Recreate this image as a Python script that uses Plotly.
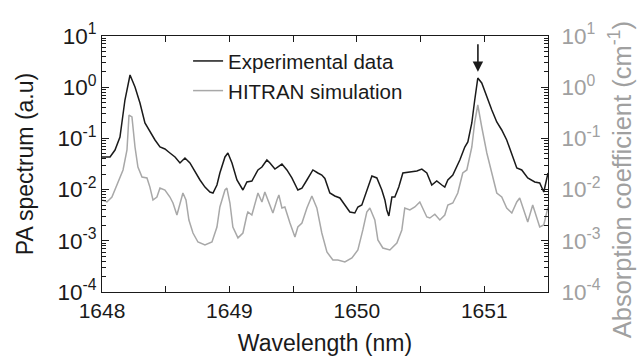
import plotly.graph_objects as go

# Experimental PA spectrum (wavelength nm, a.u.)
exp_wl = [1648.000, 1648.063, 1648.102, 1648.141, 1648.180, 1648.220, 1648.259, 1648.298,
          1648.337, 1648.376, 1648.416, 1648.455, 1648.494, 1648.533, 1648.573, 1648.612,
          1648.651, 1648.690, 1648.729, 1648.769, 1648.808, 1648.847, 1648.871, 1648.902,
          1648.925, 1648.965, 1648.988, 1649.020, 1649.059, 1649.106, 1649.137, 1649.176,
          1649.224, 1649.255, 1649.294, 1649.318, 1649.357, 1649.412, 1649.451, 1649.490,
          1649.537, 1649.569, 1649.608, 1649.655, 1649.694, 1649.725, 1649.749, 1649.788,
          1649.827, 1649.867, 1649.906, 1649.945, 1649.984, 1650.008, 1650.039, 1650.078,
          1650.118, 1650.157, 1650.196, 1650.220, 1650.235, 1650.251, 1650.275, 1650.298,
          1650.329, 1650.361, 1650.416, 1650.471, 1650.510, 1650.549, 1650.588, 1650.627,
          1650.667, 1650.690, 1650.714, 1650.753, 1650.808, 1650.847, 1650.871, 1650.902,
          1650.925, 1650.949, 1650.980, 1651.020, 1651.059, 1651.098, 1651.137, 1651.176,
          1651.216, 1651.255, 1651.294, 1651.341, 1651.396, 1651.435, 1651.467, 1651.500]
exp_val = [0.0434, 0.0434, 0.0593, 0.106, 0.562, 1.73, 1.01, 0.491,
           0.200, 0.133, 0.0931, 0.0679, 0.0621, 0.0519, 0.0434, 0.0331,
           0.0414, 0.0331, 0.0221, 0.0154, 0.0112, 0.00898, 0.00859, 0.0123,
           0.0211, 0.0434, 0.0519, 0.0331, 0.0154, 0.00982, 0.0141, 0.0147,
           0.0242, 0.0276, 0.0379, 0.0331, 0.0252, 0.0316, 0.0242, 0.0169,
           0.00982, 0.0107, 0.0154, 0.0242, 0.0211, 0.0193, 0.0165, 0.00859,
           0.00750, 0.00686, 0.00500, 0.00365, 0.00349, 0.00457, 0.00500, 0.00982,
           0.0184, 0.0169, 0.00982, 0.00627, 0.00400, 0.00305, 0.00716, 0.00716,
           0.0112, 0.0211, 0.0221, 0.0231, 0.0252, 0.0211, 0.0123, 0.0147,
           0.0123, 0.0112, 0.0154, 0.0193, 0.0379, 0.0679, 0.0851, 0.200,
           0.562, 1.51, 1.21, 0.644, 0.359, 0.209, 0.146, 0.0931,
           0.0474, 0.0264, 0.0242, 0.0169, 0.0141, 0.0135, 0.00898, 0.0211]

# HITRAN simulation (wavelength nm, absorption coefficient cm^-1)
sim_wl = [1648.000, 1648.039, 1648.078, 1648.125, 1648.165, 1648.196, 1648.212, 1648.235,
          1648.259, 1648.282, 1648.314, 1648.353, 1648.376, 1648.400, 1648.431, 1648.455,
          1648.494, 1648.533, 1648.557, 1648.588, 1648.612, 1648.635, 1648.659, 1648.682,
          1648.714, 1648.753, 1648.808, 1648.863, 1648.902, 1648.925, 1648.965, 1648.980,
          1649.004, 1649.027, 1649.067, 1649.106, 1649.137, 1649.145, 1649.176, 1649.200,
          1649.224, 1649.255, 1649.278, 1649.302, 1649.341, 1649.373, 1649.388, 1649.412,
          1649.435, 1649.475, 1649.514, 1649.537, 1649.569, 1649.608, 1649.647, 1649.686,
          1649.725, 1649.765, 1649.812, 1649.851, 1649.906, 1649.961, 1650.008, 1650.047,
          1650.078, 1650.102, 1650.141, 1650.165, 1650.204, 1650.259, 1650.314, 1650.353,
          1650.376, 1650.416, 1650.455, 1650.494, 1650.518, 1650.549, 1650.573, 1650.612,
          1650.651, 1650.690, 1650.714, 1650.753, 1650.792, 1650.831, 1650.863, 1650.902,
          1650.925, 1650.949, 1650.980, 1651.020, 1651.059, 1651.098, 1651.137, 1651.176,
          1651.216, 1651.255, 1651.278, 1651.302, 1651.341, 1651.380, 1651.412, 1651.435,
          1651.467, 1651.500]
sim_val = [0.00627, 0.00573, 0.00716, 0.0135, 0.0242, 0.0593, 0.286, 0.262,
           0.0679, 0.0276, 0.0176, 0.0169, 0.0112, 0.00627, 0.00716, 0.0107,
           0.00982, 0.00716, 0.00547, 0.00319, 0.00547, 0.00859, 0.00627, 0.00255,
           0.00142, 0.000948, 0.000828, 0.000948, 0.00186, 0.00457, 0.00982, 0.0107,
           0.00547, 0.00186, 0.00114, 0.00142, 0.00319, 0.00365, 0.00319, 0.00500,
           0.00859, 0.00573, 0.00898, 0.00627, 0.00349, 0.00627, 0.00785, 0.00438,
           0.00457, 0.00223, 0.00119, 0.00186, 0.00223, 0.00438, 0.00750, 0.00438,
           0.00142, 0.000604, 0.000422, 0.000422, 0.000385, 0.000461, 0.000661, 0.00163,
           0.00365, 0.00438, 0.00255, 0.00104, 0.000723, 0.000661, 0.000906, 0.00163,
           0.00438, 0.00400, 0.00457, 0.00573, 0.00438, 0.00292, 0.00279, 0.00330,
           0.00255, 0.00319, 0.00500, 0.00547, 0.00859, 0.0211, 0.0242, 0.0679,
           0.209, 0.449, 0.167, 0.0519, 0.0211, 0.00859, 0.00716, 0.00438,
           0.00349, 0.00573, 0.00686, 0.00438, 0.00233, 0.00500, 0.00292, 0.00186,
           0.00204, 0.00457]

x_ticks = [1648, 1648.5, 1649, 1649.5, 1650, 1650.5, 1651, 1651.5]
x_ticktext = ["1648", "", "1649", "", "1650", "", "1651", ""]
y_exps = [-4, -3, -2, -1, 0, 1]
y_ticks = [10.0 ** e for e in y_exps]
y_ticktext = ["10<sup>%d</sup>" % e for e in y_exps]
y_minor = [m * 10.0 ** e for e in y_exps[:-1] for m in range(2, 10)]
arrow_wl = 1650.95

BLACK = "#1a1a1a"
GRAY = "#a8a8a8"
LABEL_GRAY = "#a0a0a0"
FONT = "Liberation Sans, Arial, sans-serif"

fig = go.Figure()
fig.add_trace(go.Scatter(x=exp_wl, y=exp_val, mode="lines", name="Experimental data",
                         line=dict(color=BLACK, width=1.5)))
fig.add_trace(go.Scatter(x=sim_wl, y=sim_val, mode="lines", name="HITRAN simulation",
                         line=dict(color=GRAY, width=1.5), yaxis="y2"))

yaxis_common = dict(type="log", range=[-4, 1], tickmode="array", tickvals=y_ticks,
                    ticktext=y_ticktext, ticks="inside", ticklen=7, tickwidth=1,
                    tickcolor=BLACK, showline=True, linecolor=BLACK, linewidth=1,
                    showgrid=False, zeroline=False, automargin=False,
                    minor=dict(tickmode="array", tickvals=y_minor, ticks="inside",
                               ticklen=4, tickcolor=BLACK, showgrid=False))

fig.update_layout(
    width=638, height=358,
    margin=dict(l=102, r=90, t=36, b=66),
    paper_bgcolor="white", plot_bgcolor="white",
    font=dict(family=FONT, size=21, color=BLACK),
    showlegend=True,
    legend=dict(x=0.193, y=0.98, xanchor="left", yanchor="top",
                bgcolor="rgba(0,0,0,0)", font=dict(size=20.5, color=BLACK),
                itemwidth=30, tracegroupgap=0),
    xaxis=dict(range=[1648, 1651.5], tickmode="array", tickvals=x_ticks,
               ticktext=x_ticktext, ticks="inside", ticklen=6, tickcolor=BLACK,
               showline=True, linecolor=BLACK, linewidth=1, mirror="ticks",
               showgrid=False, zeroline=False, automargin=False,
               tickfont=dict(size=21, color=BLACK),
               title=dict(text="Wavelength (nm)", font=dict(size=23, color=BLACK), standoff=13)),
    yaxis=dict(**yaxis_common, side="left",
               tickfont=dict(size=22.5, color=BLACK),
               title=dict(text="PA spectrum (a.u)", font=dict(size=23, color=BLACK), standoff=17)),
    yaxis2=dict(**yaxis_common, side="right", overlaying="y",
                tickfont=dict(size=22.5, color=LABEL_GRAY), ticklabelstandoff=8),
)

# right-hand axis title (placed as annotation so it can span the full height)
fig.add_annotation(text="Absorption coefficient (cm<sup>-1</sup>)", textangle=-90,
                   xref="paper", yref="paper", x=1.162, y=0.4375,
                   xanchor="center", yanchor="middle", showarrow=False,
                   font=dict(size=25.5, color=LABEL_GRAY))

fig.add_annotation(x=arrow_wl, y=0.30, xref="x", yref="y", ax=0, ay=-29,
                   showarrow=True, arrowhead=2, arrowsize=1.3, arrowwidth=1.6,
                   arrowcolor=BLACK, text="")

fig.write_html("out.html")
